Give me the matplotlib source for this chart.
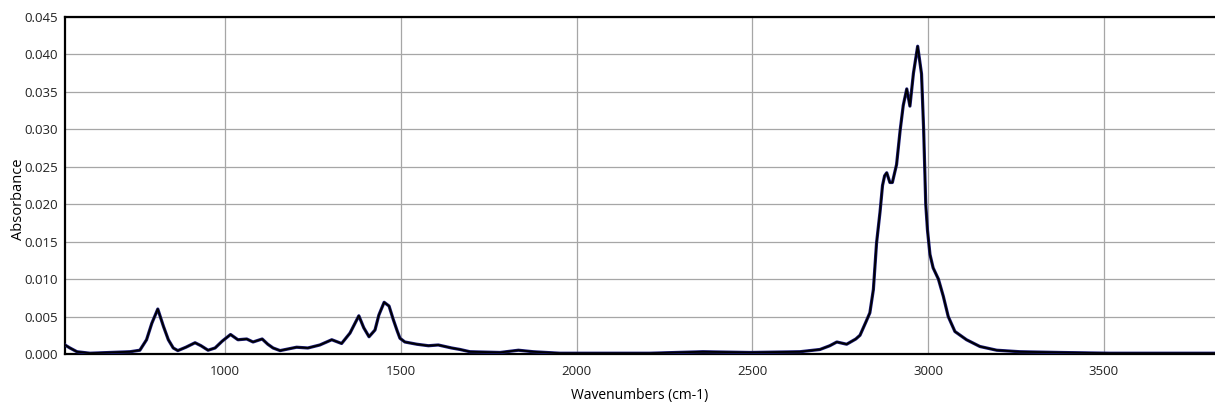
import matplotlib
matplotlib.use("Agg")
import matplotlib.pyplot as plt
from matplotlib.ticker import FormatStrFormatter, MultipleLocator

# IR absorbance spectrum, read point by point (wavenumber in cm-1).
wavenumber = [
    544, 558, 578, 615, 672, 729, 757, 776, 791, 808, 824, 838, 852, 865,
    888, 914, 931, 951, 971, 991, 1015, 1036, 1061, 1079, 1105, 1121, 1136,
    1156, 1203, 1235, 1269, 1303, 1331, 1355, 1380, 1394, 1409, 1426, 1437,
    1452, 1466, 1478, 1489, 1497, 1511, 1545, 1578, 1606, 1644, 1668, 1696,
    1782, 1834, 1876, 1952, 2066, 2208, 2359, 2493, 2635, 2692, 2720, 2740,
    2768, 2794, 2806, 2823, 2834, 2844, 2853, 2863, 2870, 2876, 2882, 2891,
    2898, 2910, 2920, 2929, 2939, 2948, 2958, 2970, 2981, 2987, 2993, 2998,
    3005, 3014, 3029, 3043, 3057, 3076, 3109, 3147, 3195, 3261, 3375, 3517,
    3659, 3816,
]
absorbance = [
    0.0012, 0.0008, 0.0003, 0.0001, 0.0002, 0.0003, 0.0005, 0.0019, 0.0041,
    0.0060, 0.0037, 0.0019, 0.0008, 0.00045, 0.0009, 0.0015, 0.0011, 0.0005,
    0.0008, 0.0017, 0.0026, 0.0019, 0.0020, 0.0016, 0.0020, 0.0013, 0.0008,
    0.00045, 0.0009, 0.0008, 0.0012, 0.0019, 0.0014, 0.0028, 0.0051, 0.0035,
    0.0023, 0.0032, 0.0052, 0.0069, 0.0064, 0.0046, 0.0031, 0.0021, 0.0016,
    0.0013, 0.0011, 0.0012, 0.0008, 0.0006, 0.0003, 0.0002, 0.0005, 0.0003,
    0.0001, 0.0001, 0.0001, 0.0003, 0.0002, 0.0003, 0.0006, 0.0011, 0.0016,
    0.0013, 0.0020, 0.0025, 0.0043, 0.0055, 0.0086, 0.0148, 0.0190, 0.0225,
    0.0238, 0.0242, 0.0229, 0.0229, 0.0253, 0.0298, 0.0332, 0.0354, 0.0331,
    0.0375, 0.0411, 0.0374, 0.0300, 0.0200, 0.0165, 0.0133, 0.0115, 0.0100,
    0.0077, 0.0050, 0.0030, 0.0019, 0.0010, 0.0005, 0.0003, 0.0002, 0.0001,
    0.0001, 0.0001,
]

plt.rcParams["font.family"] = ["Open Sans", "DejaVu Sans"]

fig = plt.figure(figsize=(12.15, 4.05), dpi=100)
ax = fig.add_axes([0.0535, 0.126, 0.9465, 0.832])

# navy trace underneath with a thinner black one on top
ax.plot(wavenumber, absorbance, color="#1c1c78", linewidth=2.3,
        solid_joinstyle="round", zorder=3)
ax.plot(wavenumber, absorbance, color="black", linewidth=1.3,
        solid_joinstyle="round", zorder=4)

ax.set_xlim(544, 3816)
ax.set_ylim(0, 0.045)
ax.yaxis.set_major_locator(MultipleLocator(0.005))
ax.yaxis.set_major_formatter(FormatStrFormatter("%.3f"))
ax.set_xticks([1000, 1500, 2000, 2500, 3000, 3500])

ax.grid(True, color="#a6a6a6", linewidth=0.9)
ax.set_axisbelow(True)
ax.tick_params(length=0, labelsize=9.5, colors="#222222", pad=5)
ax.tick_params(axis="x", pad=8)

for side in ("top", "left", "bottom"):
    ax.spines[side].set_linewidth(1.6)
    ax.spines[side].set_color("black")
ax.spines["right"].set_visible(False)

ax.set_xlabel("Wavenumbers (cm-1)", fontsize=10, labelpad=7)
ax.set_ylabel("Absorbance", fontsize=10.5)
ax.yaxis.set_label_coords(-0.034, 0.46)

fig.savefig("out.png", dpi=100)
